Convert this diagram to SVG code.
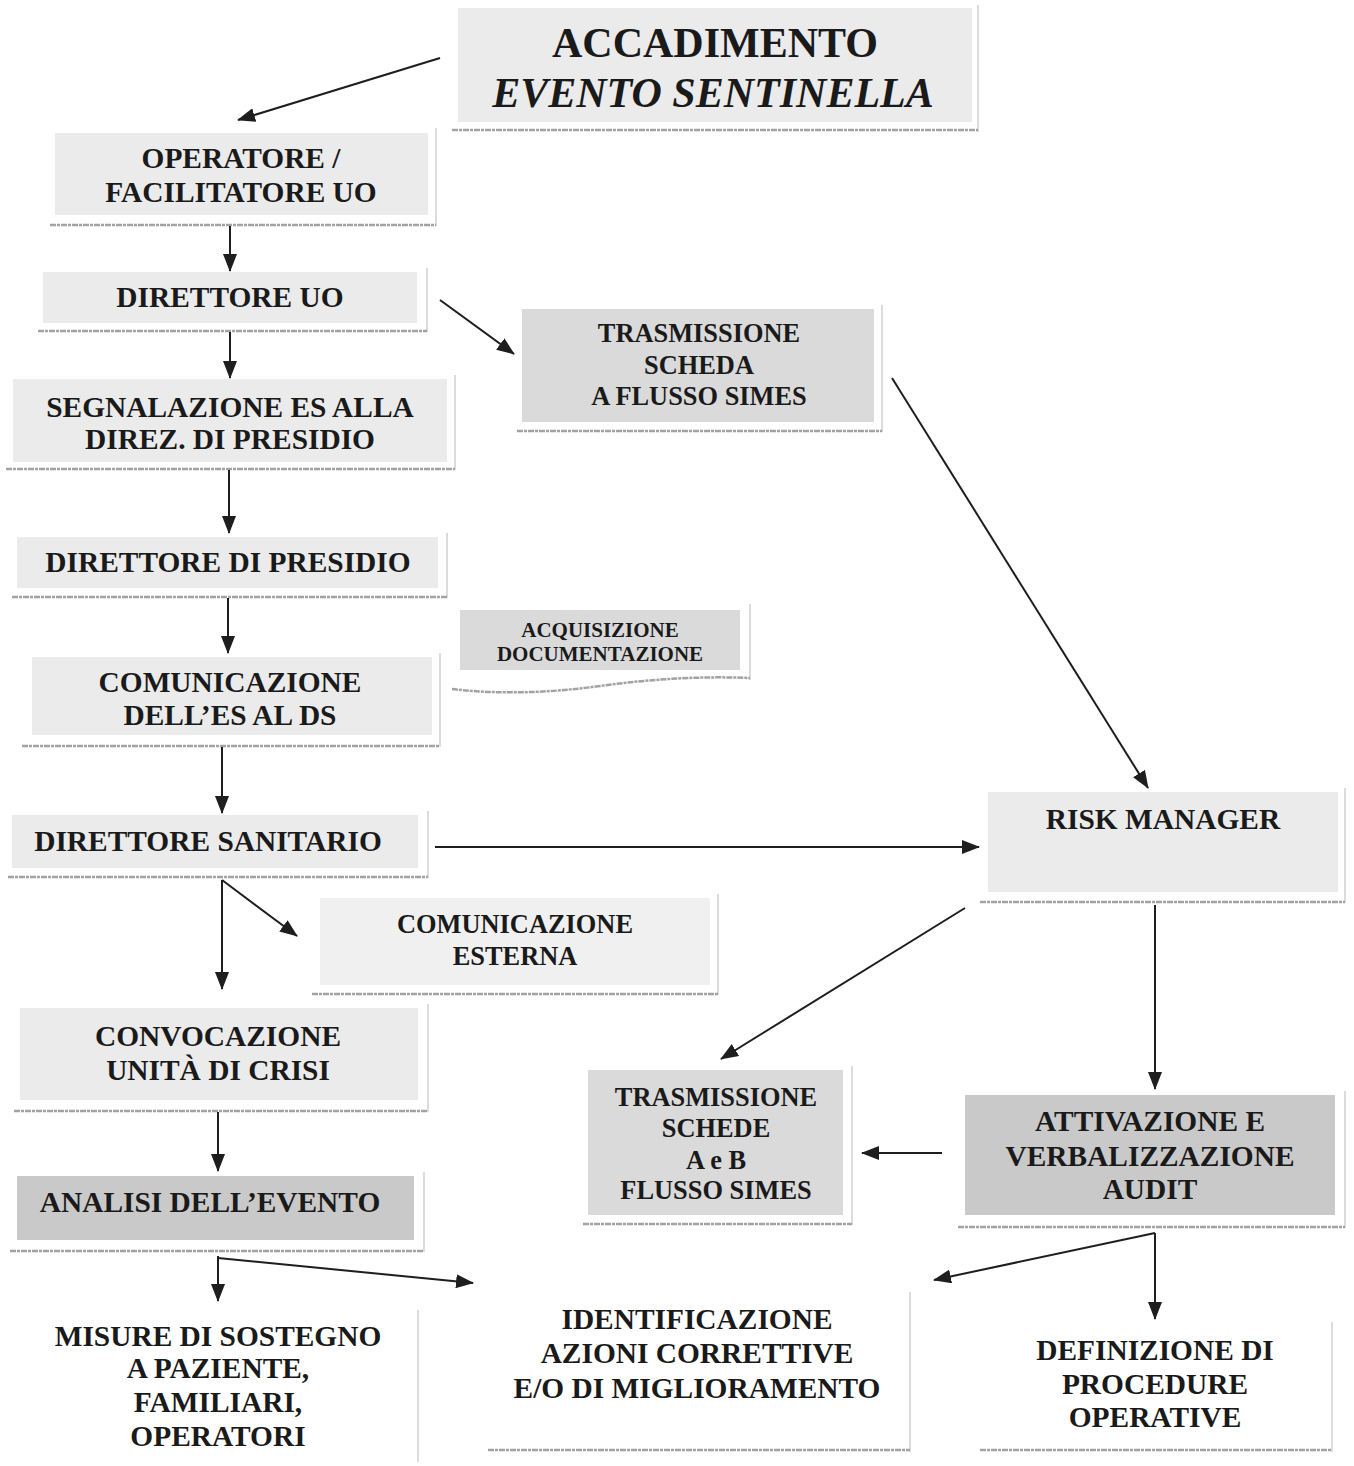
<svg xmlns="http://www.w3.org/2000/svg" width="1354" height="1466" viewBox="0 0 1354 1466">
<style>
text{font-family:"Liberation Serif","Times New Roman",serif;font-weight:bold;fill:#1a1a1a;text-anchor:middle;font-size:29.4px}
.t26{font-size:26.4px}
.t20{font-size:21px}
.g1{fill:#ebebeb}
.g2{fill:#dadada}
.g3{fill:#c9c9c9}
.g0{fill:#f0f0f0}
.rb{stroke:#c4c4c4;stroke-width:1.2;fill:none}
.bb{stroke:#a2a2a2;stroke-width:2.5;fill:none;stroke-dasharray:6 1 3 1}
.c{stroke:#1e1e1e;stroke-width:2;fill:none;marker-end:url(#ah)}
</style>
<defs>
<marker id="ah" markerUnits="userSpaceOnUse" markerWidth="18" markerHeight="14" refX="17" refY="7" orient="auto">
<path d="M0,0 L18,7 L0,14 Z" fill="#1e1e1e"/>
</marker>
</defs>
<rect width="1354" height="1466" fill="#ffffff"/>

<g id="n-accadimento">
<rect class="g1" x="458" y="8" width="514" height="114"/>
<path class="rb" d="M978,5 V132"/>
<path class="bb" d="M452,130 H978"/>
<text x="715" y="57" style="font-size:42px">ACCADIMENTO</text>
<text x="713" y="107" style="font-size:42px;font-style:italic">EVENTO SENTINELLA</text>
</g>

<g id="n-operatore">
<rect class="g1" x="55" y="133" width="373" height="82"/>
<path class="rb" d="M436,128 V226"/>
<path class="bb" d="M50,225 H436"/>
<text x="241" y="168">OPERATORE /</text>
<text x="241" y="202">FACILITATORE UO</text>
</g>

<g id="n-direttore-uo">
<rect class="g1" x="43" y="272" width="374" height="51"/>
<path class="rb" d="M427,268 V332"/>
<path class="bb" d="M38,331 H427"/>
<text x="230" y="307">DIRETTORE UO</text>
</g>

<g id="n-segnalazione">
<rect class="g1" x="13" y="379" width="434" height="83"/>
<path class="rb" d="M455,375 V470"/>
<path class="bb" d="M6,469 H455"/>
<text x="230" y="417">SEGNALAZIONE ES ALLA</text>
<text x="230" y="449">DIREZ. DI PRESIDIO</text>
</g>

<g id="n-direttore-presidio">
<rect class="g1" x="17" y="537" width="421" height="51"/>
<path class="rb" d="M447,533 V598"/>
<path class="bb" d="M12,597 H447"/>
<text x="228" y="572">DIRETTORE DI PRESIDIO</text>
</g>

<g id="n-comunicazione-ds">
<rect class="g1" x="32" y="657" width="400" height="78"/>
<path class="rb" d="M440,653 V747"/>
<path class="bb" d="M22,746 H440"/>
<text x="230" y="692">COMUNICAZIONE</text>
<text x="230" y="725">DELL’ES AL  DS</text>
</g>

<g id="n-direttore-sanitario">
<rect class="g1" x="12" y="815" width="406" height="53"/>
<path class="rb" d="M428,811 V878"/>
<path class="bb" d="M8,877 H428"/>
<text x="208" y="851">DIRETTORE SANITARIO</text>
</g>

<g id="n-comunicazione-esterna">
<rect class="g0" x="320" y="898" width="390" height="87"/>
<path class="rb" d="M718,894 V995"/>
<path class="bb" d="M312,994 H718"/>
<text class="t26" x="515" y="933">COMUNICAZIONE</text>
<text class="t26" x="515" y="965">ESTERNA</text>
</g>

<g id="n-convocazione">
<rect class="g1" x="20" y="1008" width="398" height="92"/>
<path class="rb" d="M428,1004 V1112"/>
<path class="bb" d="M14,1111 H428"/>
<text x="218" y="1046">CONVOCAZIONE</text>
<text x="218" y="1080">UNITÀ DI CRISI</text>
</g>

<g id="n-analisi">
<rect class="g3" x="17" y="1176" width="397" height="64"/>
<path class="rb" d="M424,1172 V1252"/>
<path class="bb" d="M10,1251 H424"/>
<text x="210" y="1212">ANALISI DELL’EVENTO</text>
</g>

<g id="n-misure">
<path class="rb" d="M418,1310 V1462"/>
<text x="218" y="1346">MISURE DI SOSTEGNO</text>
<text x="218" y="1378">A PAZIENTE,</text>
<text x="218" y="1412">FAMILIARI,</text>
<text x="218" y="1446">OPERATORI</text>
</g>

<g id="n-trasmissione-scheda">
<rect class="g2" x="522" y="309" width="352" height="113"/>
<path class="rb" d="M882,305 V432"/>
<path class="bb" d="M517,431 H882"/>
<text class="t26" x="699" y="342">TRASMISSIONE</text>
<text class="t26" x="699" y="374">SCHEDA</text>
<text class="t26" x="699" y="405">A FLUSSO SIMES</text>
</g>

<g id="n-acquisizione">
<rect class="g2" x="460" y="610" width="280" height="60"/>
<path class="rb" d="M750,604 V680"/>
<path class="bb" d="M452,689 Q520,697 600,686 T750,678"/>
<text class="t20" x="600" y="637">ACQUISIZIONE</text>
<text class="t20" x="600" y="661">DOCUMENTAZIONE</text>
</g>

<g id="n-risk-manager">
<rect class="g1" x="988" y="792" width="350" height="100"/>
<path class="rb" d="M1345,788 V903"/>
<path class="bb" d="M980,902 H1345"/>
<text x="1163" y="829">RISK MANAGER</text>
</g>

<g id="n-trasmissione-schede">
<rect class="g2" x="588" y="1070" width="255" height="145"/>
<path class="rb" d="M852,1066 V1225"/>
<path class="bb" d="M583,1224 H852"/>
<text class="t26" x="716" y="1106">TRASMISSIONE</text>
<text class="t26" x="716" y="1137">SCHEDE</text>
<text class="t26" x="716" y="1169">A e B</text>
<text class="t26" x="716" y="1199">FLUSSO SIMES</text>
</g>

<g id="n-attivazione">
<rect class="g3" x="965" y="1095" width="370" height="120"/>
<path class="rb" d="M1345,1091 V1228"/>
<path class="bb" d="M958,1227 H1345"/>
<text x="1150" y="1131">ATTIVAZIONE E</text>
<text x="1150" y="1166">VERBALIZZAZIONE</text>
<text x="1150" y="1199">AUDIT</text>
</g>

<g id="n-identificazione">
<path class="rb" d="M910,1292 V1452"/>
<path class="bb" d="M488,1450 H910"/>
<text x="697" y="1329">IDENTIFICAZIONE</text>
<text x="697" y="1363">AZIONI CORRETTIVE</text>
<text x="697" y="1398">E/O DI MIGLIORAMENTO</text>
</g>

<g id="n-definizione">
<path class="rb" d="M1332,1322 V1452"/>
<path class="bb" d="M980,1450 H1332"/>
<text x="1155" y="1360">DEFINIZIONE DI</text>
<text x="1155" y="1394">PROCEDURE</text>
<text x="1155" y="1427">OPERATIVE</text>
</g>

<g id="connectors">
<path class="c" d="M440,58 L238,120"/>
<path class="c" d="M230,226 V271"/>
<path class="c" d="M230,332 V378"/>
<path class="c" d="M440,300 L514,354"/>
<path class="c" d="M229,470 V533"/>
<path class="c" d="M228,598 V653"/>
<path class="c" d="M892,378 L1148,788"/>
<path class="c" d="M222,747 V813"/>
<path class="c" d="M435,847 H979"/>
<path class="c" d="M222,880 V989"/>
<path class="c" d="M222,880 L297,936"/>
<path class="c" d="M218,1112 V1171"/>
<path class="c" d="M218,1256 V1301"/>
<path class="c" d="M218,1258 L473,1283"/>
<path class="c" d="M965,908 L721,1059"/>
<path class="c" d="M1155,905 V1089"/>
<path class="c" d="M942,1153 H862"/>
<path class="c" d="M1155,1233 V1319"/>
<path class="c" d="M1155,1233 L934,1280"/>
</g>
</svg>
